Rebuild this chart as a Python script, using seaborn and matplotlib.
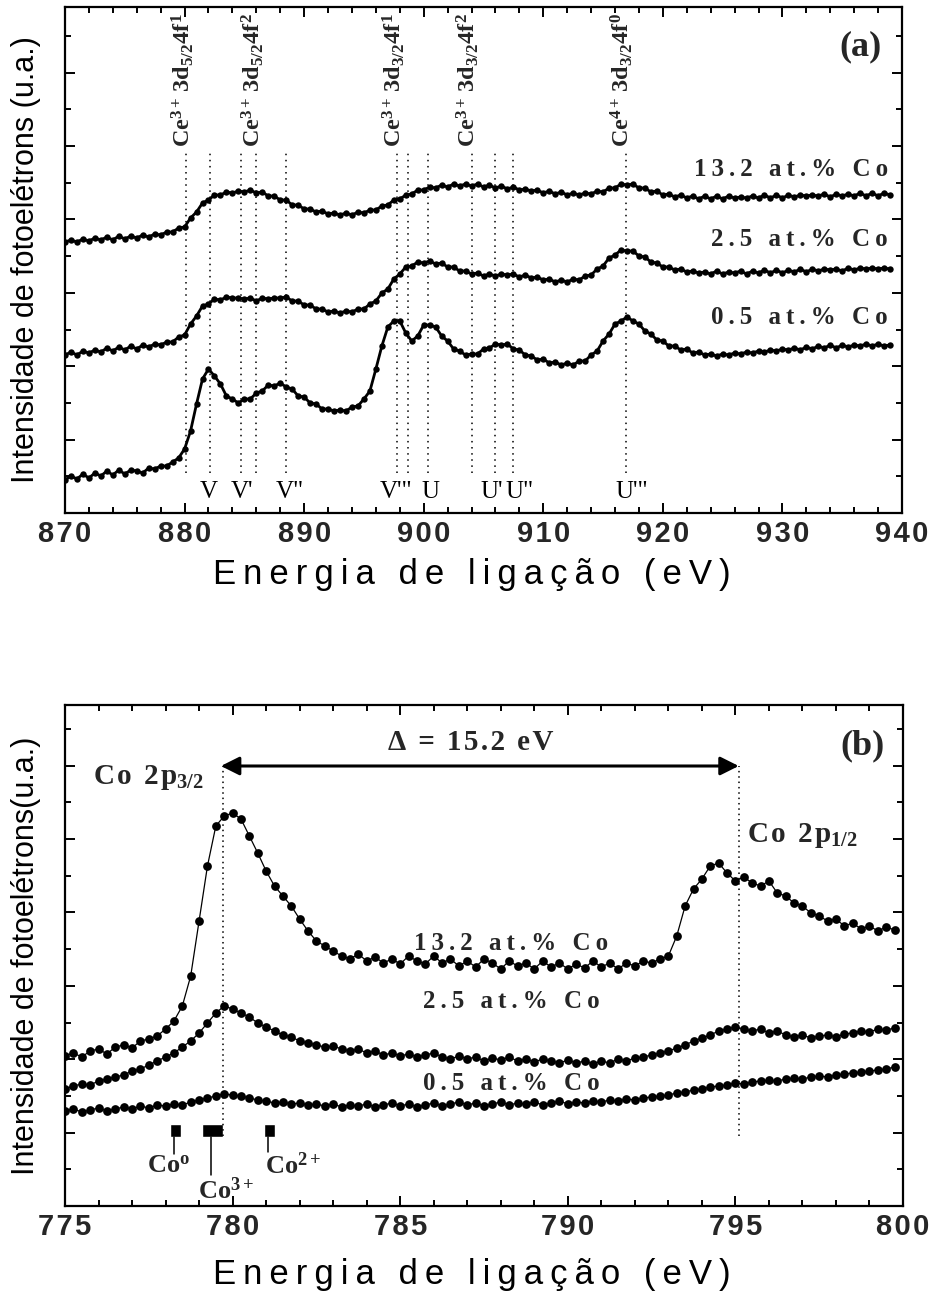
import numpy as np
import pandas as pd
import seaborn as sns
import matplotlib
matplotlib.use('Agg')
import matplotlib.pyplot as plt
from matplotlib.ticker import MultipleLocator, NullFormatter

# ---------------- data: panel (a) Ce 3d ----------------
ce_e0, ce_step = 870.0, 0.5
ce_05 = [33, 37, 34, 39, 35, 40, 37, 42, 38, 43,
         39, 43, 42, 40, 45, 44, 47, 47, 51, 55,
         64, 82, 109, 134, 144, 137, 129, 117, 114, 110,
         114, 114, 120, 122, 128, 127, 130, 126, 124, 117,
         116, 110, 109, 104, 104, 102, 103, 102, 106, 107,
         114, 122, 144, 167, 186, 192, 192, 180, 172, 177,
         188, 188, 186, 177, 172, 164, 162, 158, 159, 159,
         164, 165, 169, 168, 169, 164, 163, 158, 157, 153,
         154, 150, 151, 148, 150, 148, 152, 152, 158, 162,
         172, 179, 189, 192, 196, 192, 189, 182, 179, 173,
         172, 167, 167, 163, 164, 160, 161, 158, 159, 157,
         159, 158, 160, 159, 161, 160, 162, 161, 163, 162,
         164, 163, 165, 163, 166, 164, 167, 165, 168, 165,
         168, 166, 168, 167, 169, 167, 169, 167, 168]
ce_25 = [158, 161, 158, 162, 160, 163, 161, 165, 162, 166,
         163, 167, 164, 168, 166, 169, 168, 171, 171, 176,
         178, 189, 197, 207, 209, 214, 213, 216, 215, 215,
         214, 215, 212, 215, 214, 215, 215, 216, 212, 212,
         208, 208, 204, 204, 201, 202, 200, 202, 201, 204,
         204, 209, 212, 220, 224, 234, 239, 246, 247, 251,
         250, 252, 249, 250, 246, 246, 242, 242, 239, 240,
         237, 239, 237, 239, 238, 239, 236, 238, 235, 236,
         233, 234, 231, 233, 231, 234, 233, 237, 238, 244,
         247, 255, 258, 263, 262, 262, 257, 256, 251, 250,
         246, 246, 243, 244, 241, 242, 240, 241, 239, 242,
         239, 241, 240, 242, 239, 242, 240, 243, 240, 243,
         240, 243, 241, 244, 241, 244, 242, 244, 243, 244,
         242, 245, 243, 245, 244, 245, 244, 245, 244]
ce_132 = [271, 273, 271, 274, 272, 275, 273, 276, 273, 277,
          274, 277, 275, 278, 276, 279, 278, 281, 281, 285,
          286, 295, 301, 310, 313, 318, 318, 321, 320, 322,
          321, 323, 320, 321, 317, 317, 313, 313, 308, 308,
          304, 304, 301, 302, 299, 300, 298, 300, 298, 301,
          300, 303, 303, 307, 308, 313, 314, 318, 319, 323,
          323, 326, 325, 328, 326, 329, 327, 329, 327, 329,
          326, 328, 325, 327, 324, 326, 323, 324, 322, 323,
          320, 322, 319, 321, 318, 320, 318, 320, 319, 322,
          321, 325, 325, 329, 328, 329, 325, 325, 321, 322,
          318, 319, 316, 318, 315, 317, 314, 317, 314, 317,
          314, 317, 315, 316, 315, 317, 315, 318, 315, 318,
          315, 318, 316, 318, 317, 318, 317, 319, 316, 319,
          317, 319, 317, 320, 317, 320, 317, 320, 318]
ce_samples = ["0.5 at.% Co", "2.5 at.% Co", "13.2 at.% Co"]
ce_label_y = [195, 273, 343]

ce_line_e = [880.15, 882.1, 884.75, 886.0, 888.45, 897.8, 898.7, 900.35,
             904.0, 906.0, 907.45, 916.9]
ce_peak_names = ["V", "V'", 'V"', "V'\"", "U", "U'", 'U"', "U'\""]
ce_peak_e = [882.0, 884.8, 888.8, 897.7, 900.6, 905.7, 908.0, 917.4]
ce_state_e = [880.15, 886.0, 897.8, 904.0, 916.9]
ce_state_txt = [r"$\mathbf{Ce^{3+}\,3d_{5/2}4f^{1}}$",
                r"$\mathbf{Ce^{3+}\,3d_{5/2}4f^{2}}$",
                r"$\mathbf{Ce^{3+}\,3d_{3/2}4f^{1}}$",
                r"$\mathbf{Ce^{3+}\,3d_{3/2}4f^{2}}$",
                r"$\mathbf{Ce^{4+}\,3d_{3/2}4f^{0}}$"]
xticks_a = [870, 880, 890, 900, 910, 920, 930, 940]

# ---------------- data: panel (b) Co 2p ----------------
co_e0, co_step = 775.0, 0.25
co_132 = [150, 153, 149, 155, 157, 152, 159, 161, 158, 165,
          167, 170, 177, 185, 200, 230, 285, 340, 380, 390,
          393, 387, 370, 353, 335, 320, 310, 300, 287, 275,
          265, 260, 255, 250, 247, 252, 245, 249, 243, 247,
          242, 250, 245, 242, 250, 243, 247, 240, 245, 239,
          247, 243, 237, 245, 240, 243, 237, 245, 239, 243,
          237, 242, 238, 245, 239, 243, 237, 243, 240, 245,
          243, 247, 250, 270, 300, 317, 327, 340, 343, 333,
          325, 329, 323, 320, 325, 313, 310, 303, 300, 293,
          290, 285, 287, 280, 283, 277, 280, 275, 279, 276]
co_25 = [117, 120, 122, 121, 125, 127, 129, 131, 135, 137,
         141, 145, 149, 153, 159, 165, 173, 183, 193, 200,
         197, 193, 189, 183, 179, 175, 171, 169, 165, 163,
         161, 159, 160, 157, 155, 157, 153, 155, 151, 153,
         150, 152, 149, 151, 153, 149, 147, 150, 147, 149,
         145, 148, 146, 149, 145, 147, 144, 147, 145, 143,
         146, 143, 145, 142, 145, 143, 147, 145, 148, 149,
         151, 153, 155, 158, 161, 165, 168, 171, 175, 177,
         179, 177, 175, 177, 173, 175, 171, 169, 171, 168,
         170, 171, 169, 172, 173, 175, 174, 177, 176, 178]
co_05 = [95, 97, 94, 96, 98, 95, 97, 99, 97, 100,
         98, 101, 100, 102, 101, 104, 106, 108, 110, 112,
         111, 110, 108, 106, 105, 103, 104, 102, 103, 101,
         102, 100, 102, 99, 101, 100, 102, 99, 101, 103,
         100, 102, 99, 101, 103, 100, 102, 104, 101, 103,
         100, 102, 104, 101, 103, 102, 104, 101, 103, 105,
         102, 104, 103, 105, 104, 106, 105, 107, 106, 108,
         109, 110, 111, 113, 114, 116, 117, 119, 120, 121,
         123, 122, 124, 125, 126, 125, 127, 128, 127, 129,
         130, 129, 131, 132, 133, 134, 135, 136, 137, 139]
co_samples = ["0.5 at.% Co", "2.5 at.% Co", "13.2 at.% Co"]
co_label_y = [122, 205, 262]
co_label_e = 788.3
co_peak_e = [779.7, 795.1]
co_state_names = [r"Co$^{\mathrm{o}}$", r"Co$^{3+}$", r"Co$^{2+}$"]
co_state_e = [778.3, 779.4, 781.1]
co_state_w = [0.35, 0.6, 0.3]
xticks_b = [775, 780, 785, 790, 795, 800]

# ---------------- style ----------------
sns.set_theme(style="ticks")
plt.rcParams['font.family'] = ['Liberation Sans', 'DejaVu Sans']
plt.rcParams['mathtext.fontset'] = 'custom'
plt.rcParams['mathtext.rm'] = 'Liberation Serif:bold'
plt.rcParams['mathtext.bf'] = 'Liberation Serif:bold'
plt.rcParams['mathtext.it'] = 'Liberation Serif:bold:italic'
plt.rcParams['axes.linewidth'] = 1.6

SERIF = ['Liberation Serif', 'DejaVu Serif']
SANS = ['Liberation Sans', 'DejaVu Sans']
HS = '\u200a'   # hair space for letter spacing
TS = '\u2009'   # thin space


def spaced(s, sep):
    return sep.join(list(s))


def build(vals_list, names, e0, step):
    frames = []
    for vals, name in zip(vals_list, names):
        e = e0 + step * np.arange(len(vals))
        frames.append(pd.DataFrame({'energy': e, 'intensity': vals, 'sample': name}))
    return pd.concat(frames, ignore_index=True)


df_a = build([ce_05, ce_25, ce_132], ce_samples, ce_e0, ce_step)
df_b = build([co_05, co_25, co_132], co_samples, co_e0, co_step)

fig = plt.figure(figsize=(9.33, 13.06), dpi=100)
ax1 = fig.add_axes([65 / 933, 1 - 513 / 1306, 837 / 933, 506 / 1306])
ax2 = fig.add_axes([65 / 933, 1 - 1206 / 1306, 838 / 933, 501 / 1306])


def style_axes(ax, xticks, xminor, ymajor, label_y):
    ax.set_xticks(xticks)
    ax.set_xticklabels([spaced(str(t), HS) for t in xticks])
    ax.xaxis.set_minor_locator(MultipleLocator(xminor))
    ax.yaxis.set_major_locator(MultipleLocator(ymajor))
    ax.yaxis.set_minor_locator(MultipleLocator(ymajor / 2))
    ax.yaxis.set_major_formatter(NullFormatter())
    ax.tick_params(which='both', direction='in', top=True, right=True,
                   width=1.4, color='black')
    ax.tick_params(which='major', length=7, pad=5)
    ax.tick_params(which='minor', length=4)
    for lab in ax.get_xticklabels():
        lab.set_fontfamily(SANS)
        lab.set_fontweight('bold')
        lab.set_fontsize(21)
    for sp in ax.spines.values():
        sp.set_color('black')
        sp.set_linewidth(1.6)
    ax.set_xlabel(spaced("Energia de ligação (eV)", TS), fontsize=25,
                  fontfamily=SANS, color='black')
    ax.xaxis.set_label_coords(0.486, label_y)


# ---------------- panel (a) ----------------
sns.lineplot(data=df_a, x='energy', y='intensity', hue='sample',
             palette=['black'] * 3, estimator=None, sort=False, legend=False,
             linewidth=2.0, marker='o', markersize=4.6, markeredgewidth=0, ax=ax1)
ax1.set_xlim(870, 940)
ax1.set_ylim(0, 506)
style_axes(ax1, xticks_a, 2, 73.4, -0.088)
ax1.set_ylabel("Intensidade de fotoelétrons (u.a.)", fontsize=22,
               fontfamily=SANS, labelpad=12, color='black')

for e in ce_line_e:
    ax1.plot([e, e], [40, 363], ls=(0, (1, 3)), color='black', lw=1.1)
for e, t in zip(ce_state_e, ce_state_txt):
    ax1.text(e - 0.3, 366, t, rotation=90, ha='center', va='bottom', fontsize=17.5)
for e, t in zip(ce_peak_e, ce_peak_names):
    ax1.text(e, 21, t, ha='center', va='center', fontsize=18,
             fontfamily=SERIF, color='black')
for name, y in zip(ce_samples, ce_label_y):
    ax1.text(938.8, y, spaced(name, TS), ha='right', va='center', fontsize=18,
             fontfamily=SERIF, fontweight='bold')
ax1.text(936.5, 466, "(a)", ha='center', va='center', fontsize=26,
         fontfamily=SERIF, fontweight='bold')

# ---------------- panel (b) ----------------
sns.lineplot(data=df_b, x='energy', y='intensity', hue='sample',
             palette=['black'] * 3, estimator=None, sort=False, legend=False,
             linewidth=0.9, marker='o', markersize=6.3, markeredgewidth=0, ax=ax2)
ax2.set_xlim(775, 800)
ax2.set_ylim(0, 501)
style_axes(ax2, xticks_b, 1, 73.4, -0.103)
ax2.set_ylabel("Intensidade de fotoelétrons(u.a.)", fontsize=22,
               fontfamily=SANS, labelpad=12, color='black')

for e in co_peak_e:
    ax2.plot([e, e], [70, 440], ls=(0, (1, 2.5)), color='black', lw=1.1)
ax2.annotate("", xy=(co_peak_e[0] - 0.05, 440), xytext=(co_peak_e[1], 440),
             arrowprops=dict(arrowstyle='<|-|>', color='black', lw=2.2,
                             mutation_scale=28, shrinkA=0, shrinkB=0))
ax2.text(787.1, 464, spaced("Δ = 15.2 eV", HS), ha='center', va='center', fontsize=21,
         fontfamily=SERIF, fontweight='bold')
ax2.text(775.85, 429, spaced("Co 2p", HS) + r"$_{3/2}$", ha='left', va='center',
         fontsize=21, fontfamily=SERIF, fontweight='bold')
ax2.text(795.36, 371, spaced("Co 2p", HS) + r"$_{1/2}$", ha='left', va='center',
         fontsize=21, fontfamily=SERIF, fontweight='bold')
ax2.text(798.8, 460, "(b)", ha='center', va='center', fontsize=26,
         fontfamily=SERIF, fontweight='bold')
for name, y in zip(co_samples, co_label_y):
    ax2.text(co_label_e, y, spaced(name, TS), ha='center', va='center', fontsize=18,
             fontfamily=SERIF, fontweight='bold')

# Co reference states
ax2.bar(co_state_e, [13, 13, 13], bottom=69, width=co_state_w, color='black')
stem_len = [17, 38, 15]
for e, L in zip(co_state_e, stem_len):
    ax2.plot([e - 0.05, e - 0.05], [69, 69 - L], color='black', lw=1.1)
ax2.text(778.1, 40, co_state_names[0], ha='center', va='center', fontsize=19,
         fontfamily=SERIF, fontweight='bold')
ax2.text(779.8, 15, co_state_names[1], ha='center', va='center', fontsize=19,
         fontfamily=SERIF, fontweight='bold')
ax2.text(781.8, 40, co_state_names[2], ha='center', va='center', fontsize=19,
         fontfamily=SERIF, fontweight='bold')

fig.savefig('out.png', dpi=100, facecolor='white')
